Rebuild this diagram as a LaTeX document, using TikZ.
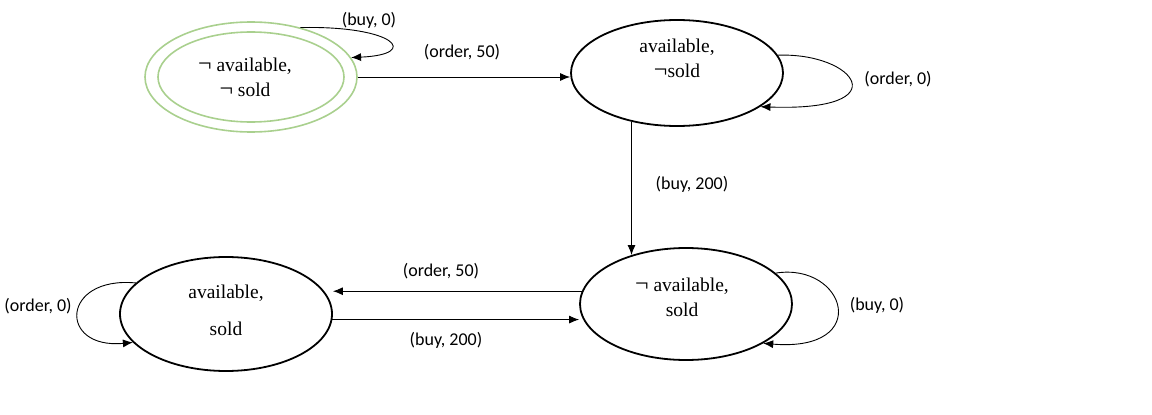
\documentclass[tikz,border=0pt]{standalone}
\usepackage{fontspec}
\setmainfont{Liberation Serif}
\newfontfamily\lblfont{Carlito}
\usetikzlibrary{shapes.geometric,arrows.meta}
\definecolor{startgreen}{HTML}{A9D08E}
\newcommand{\nt}{{\fontsize{24}{25}\selectfont ¬}}
\begin{document}
\begin{tikzpicture}[x=1pt,y=-1pt,>={Latex[length=10pt,width=8pt]}]
  \tikzstyle{state}=[draw,ellipse,line width=1.8pt,minimum width=212pt,minimum height=112pt,inner sep=0pt]
  \tikzstyle{txt}=[align=center,inner sep=0pt,font=\fontsize{19.5}{25}\selectfont]
  \tikzstyle{lbl}=[inner sep=0pt,font=\lblfont\fontsize{18}{20}\selectfont]
  \tikzstyle{edge}=[->,line width=0.9pt]
  \useasboundingbox (0,0) rectangle (1152,415);
  \node[state,draw=startgreen,line width=1.6pt,minimum width=212pt,minimum height=110pt] (start) at (251,77) {};
  \node[state,draw=startgreen,line width=1.6pt,minimum width=186pt,minimum height=90pt] (start-in) at (251,77) {};
  \node[state,minimum height=106pt] (tr) at (677,73) {};
  \node[state] (br) at (686,304) {};
  \node[state,minimum height=114pt] (bl) at (226,314) {};
  \node[txt] (start-t) at (245,77) {\nt\ available,\\ \nt\ sold};
  \node[txt] (tr-t) at (677,58) {available,\\ \nt sold};
  \node[txt] (br-t) at (682,297) {\nt\ available,\\ sold};
  \node[txt] (bl-t) at (226,310) {available,\\[12pt] sold};
  \draw[edge] (start.45) .. controls +(95,-2) and +(70,-3) .. (start.11);
  \draw[edge] (start.east) -- (start.east -| tr.west);
  \draw[edge] (tr.10) .. controls +(77,-3) and +(140,5) .. (tr.-22);
  \draw[edge] (tr.-133) -- (tr.-133 |- br.138);
  \draw[edge] (br.173) -- (br.173 -| bl.east);
  \draw[edge] (bl.-3) -- (bl.-3 -| br.west);
  \draw[edge] (br.19) .. controls +(70,-11) and +(110,9) .. (br.-27);
  \draw[edge] (bl.161) .. controls +(-75,-7) and +(-75,7) .. (bl.-163);
  \node[lbl] (l-buy0a) at (369,20) {(buy, 0)};
  \node[lbl] (l-ord50a) at (462,52) {(order, 50)};
  \node[lbl] (l-ord0a) at (898,79) {(order, 0)};
  \node[lbl] (l-buy200a) at (692,184) {(buy, 200)};
  \node[lbl] (l-ord50b) at (441,271) {(order, 50)};
  \node[lbl] (l-buy200b) at (446,340) {(buy, 200)};
  \node[lbl] (l-buy0b) at (877,305) {(buy, 0)};
  \node[lbl] (l-ord0b) at (38,306) {(order, 0)};
\end{tikzpicture}
\end{document}
